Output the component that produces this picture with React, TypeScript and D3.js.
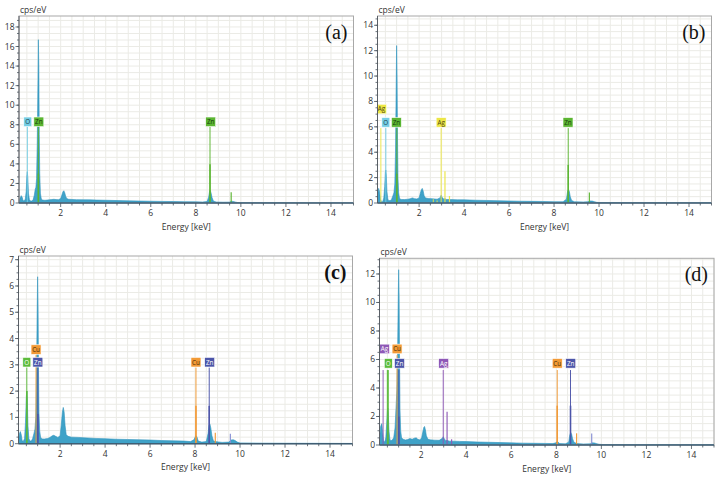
import React from 'react';
import * as d3 from 'd3';

type Pt = [number, number];
type Ln = { e: number; top: number; c: string; w: number; o?: number };
type Lab = { t: string; e: number; v: number; bg: string; fg: string };

// ---------- data ----------
const xTicks = [2, 4, 6, 8, 10, 12, 14];
const yTicksA = [0, 2, 4, 6, 8, 10, 12, 14, 16, 18];
const yTicksB = [0, 2, 4, 6, 8, 10, 12, 14];
const yTicksC = [0, 1, 2, 3, 4, 5, 6, 7];
const yTicksD = [0, 2, 4, 6, 8, 10, 12];

const specA: Pt[] = [[0.15,0.1],[0.2,0.5],[0.25,0.75],[0.29,0.6],[0.33,0.25],[0.38,0.2],[0.43,0.4],[0.47,1.2],[0.5,2.8],[0.52,3.2],[0.54,2.6],[0.57,1.0],[0.61,0.35],[0.66,0.2],[0.72,0.2],[0.78,0.35],[0.83,0.8],[0.87,1.4],[0.9,1.6],[0.93,2.5],[0.96,6],[0.99,12],[1.01,16.7],[1.03,14],[1.05,7],[1.07,3],[1.1,1.0],[1.14,0.4],[1.2,0.3],[1.3,0.28],[1.4,0.3],[1.5,0.33],[1.6,0.35],[1.7,0.38],[1.8,0.35],[1.9,0.34],[2.0,0.45],[2.05,0.8],[2.1,1.15],[2.14,1.25],[2.18,1.05],[2.22,0.7],[2.27,0.45],[2.35,0.38],[2.5,0.36],[2.7,0.34],[3.0,0.33],[3.3,0.32],[3.6,0.3],[4.0,0.28],[4.5,0.25],[5.0,0.22],[5.5,0.2],[6.0,0.18],[6.5,0.16],[7.0,0.15],[7.5,0.13],[8.0,0.12],[8.3,0.1],[8.5,0.15],[8.57,0.6],[8.61,1.2],[8.64,1.3],[8.68,1.0],[8.72,0.55],[8.78,0.2],[8.9,0.1],[9.2,0.08],[9.5,0.09],[9.58,0.18],[9.65,0.16],[9.75,0.1],[9.85,0.05],[10.0,0.03],[11,0.02],[12,0.02],[13,0.01],[15,0.01]];

const specB: Pt[] = [[0.15,0.6],[0.2,1.15],[0.24,0.9],[0.28,0.3],[0.33,0.1],[0.38,0.1],[0.43,0.4],[0.47,1.3],[0.5,2.4],[0.52,2.6],[0.54,2.2],[0.57,0.9],[0.61,0.3],[0.66,0.18],[0.72,0.2],[0.78,0.3],[0.84,0.6],[0.88,0.8],[0.92,1.5],[0.95,4],[0.98,9],[1.0,12.4],[1.02,10],[1.04,5],[1.06,2],[1.09,0.8],[1.13,0.35],[1.2,0.28],[1.35,0.27],[1.5,0.3],[1.6,0.33],[1.7,0.4],[1.8,0.34],[1.9,0.32],[2.0,0.4],[2.05,0.75],[2.1,1.05],[2.14,1.15],[2.18,0.95],[2.22,0.6],[2.28,0.4],[2.4,0.35],[2.6,0.33],[2.8,0.3],[2.93,0.4],[2.98,0.62],[3.02,0.45],[3.1,0.3],[3.15,0.35],[3.2,0.28],[3.4,0.27],[3.7,0.25],[4.0,0.25],[4.5,0.22],[5,0.2],[5.5,0.18],[6,0.16],[6.5,0.14],[7,0.13],[7.5,0.12],[8,0.1],[8.4,0.1],[8.55,0.3],[8.6,0.9],[8.64,1.08],[8.68,0.9],[8.72,0.5],[8.78,0.2],[8.9,0.1],[9.3,0.08],[9.5,0.1],[9.6,0.16],[9.7,0.15],[9.8,0.1],[9.9,0.05],[10.1,0.03],[12,0.02],[15,0.01]];

const specC: Pt[] = [[0.15,0.15],[0.2,0.4],[0.23,0.46],[0.27,0.35],[0.31,0.12],[0.36,0.08],[0.42,0.2],[0.46,0.8],[0.5,1.8],[0.52,2.0],[0.54,1.7],[0.57,0.7],[0.61,0.2],[0.66,0.1],[0.72,0.1],[0.78,0.2],[0.84,0.4],[0.88,0.55],[0.92,1.0],[0.95,2.5],[0.98,5],[1.0,6.35],[1.02,5.2],[1.04,2.8],[1.06,1.2],[1.09,0.5],[1.13,0.25],[1.2,0.18],[1.3,0.18],[1.45,0.2],[1.55,0.24],[1.65,0.3],[1.72,0.32],[1.8,0.28],[1.9,0.24],[2.0,0.3],[2.05,0.7],[2.1,1.2],[2.14,1.38],[2.18,1.2],[2.22,0.7],[2.27,0.35],[2.35,0.28],[2.5,0.25],[2.8,0.24],[3.2,0.22],[3.6,0.2],[4,0.19],[4.5,0.17],[5,0.16],[5.5,0.15],[6,0.14],[6.5,0.12],[7,0.11],[7.5,0.1],[7.8,0.08],[7.95,0.15],[8.03,0.3],[8.08,0.27],[8.14,0.1],[8.3,0.06],[8.5,0.08],[8.58,0.4],[8.62,0.7],[8.66,0.75],[8.7,0.6],[8.75,0.3],[8.82,0.1],[8.9,0.08],[9.2,0.05],[9.5,0.06],[9.6,0.14],[9.7,0.15],[9.78,0.12],[9.88,0.06],[10,0.03],[11,0.02],[15,0.01]];

const specD: Pt[] = [[0.15,0.4],[0.2,1.3],[0.25,1.5],[0.29,0.9],[0.33,0.3],[0.38,0.2],[0.43,0.5],[0.47,1.5],[0.5,2.4],[0.52,2.6],[0.54,2.2],[0.57,1.0],[0.61,0.4],[0.66,0.3],[0.72,0.35],[0.78,0.5],[0.84,1.2],[0.88,2.5],[0.92,3.8],[0.95,6],[0.98,10],[1.0,12.3],[1.02,10.5],[1.04,6],[1.06,2.5],[1.09,1.0],[1.13,0.5],[1.2,0.4],[1.3,0.35],[1.4,0.38],[1.5,0.45],[1.6,0.4],[1.7,0.48],[1.78,0.5],[1.85,0.4],[1.95,0.35],[2.02,0.5],[2.07,0.9],[2.12,1.25],[2.15,1.3],[2.19,1.05],[2.23,0.65],[2.3,0.4],[2.4,0.36],[2.6,0.34],[2.8,0.33],[2.93,0.45],[2.98,0.58],[3.03,0.42],[3.1,0.3],[3.15,0.33],[3.25,0.27],[3.4,0.27],[3.7,0.25],[4,0.24],[4.5,0.21],[5,0.19],[5.5,0.17],[6,0.15],[6.5,0.13],[7,0.12],[7.5,0.11],[7.85,0.1],[7.97,0.15],[8.03,0.22],[8.08,0.2],[8.15,0.1],[8.4,0.08],[8.55,0.2],[8.6,0.7],[8.64,0.88],[8.68,0.75],[8.72,0.45],[8.78,0.2],[8.9,0.1],[9.2,0.07],[9.5,0.08],[9.6,0.15],[9.7,0.14],[9.8,0.09],[9.9,0.05],[10.1,0.03],[12,0.02],[15,0.01]];

const cO1 = '#74cde4';
const cZn1 = '#5bb531';
const cAg1 = '#ece645';
const cO2 = '#5cbb3a';
const cCu = '#f29a36';
const cZn2 = '#4c55a9';
const cAg2 = '#8e58b6';

const linesA: Ln[] = [
  { e: 0.52, top: 7.8, c: cO1, w: 1 },
  { e: 1.01, top: 7.8, c: cZn1, w: 1 },
  { e: 1.01, top: 3.0, c: cZn1, w: 1.6 },
  { e: 8.63, top: 7.8, c: cZn1, w: 1 },
  { e: 8.63, top: 3.95, c: cZn1, w: 1.6 },
  { e: 9.57, top: 1.1, c: cZn1, w: 1.2 },
];
const labelsA: Lab[] = [
  { t: 'O', e: 0.54, v: 8.3, bg: cO1, fg: '#1d3b44' },
  { t: 'Zn', e: 1.03, v: 8.3, bg: cZn1, fg: '#173b0c' },
  { t: 'Zn', e: 8.66, v: 8.3, bg: cZn1, fg: '#173b0c' },
];

const linesB: Ln[] = [
  { e: 0.3, top: 5.9, c: cAg1, w: 1 },
  { e: 0.52, top: 5.9, c: cO1, w: 1 },
  { e: 1.01, top: 5.9, c: cZn1, w: 1 },
  { e: 1.01, top: 2.3, c: cZn1, w: 1.6 },
  { e: 2.63, top: 0.3, c: cAg1, w: 1 },
  { e: 2.8, top: 0.2, c: cAg1, w: 1 },
  { e: 2.98, top: 5.9, c: cAg1, w: 1 },
  { e: 3.15, top: 2.5, c: cAg1, w: 1.2 },
  { e: 3.35, top: 0.55, c: cAg1, w: 1.2 },
  { e: 8.63, top: 5.9, c: cZn1, w: 1 },
  { e: 8.63, top: 3.0, c: cZn1, w: 1.6 },
  { e: 9.57, top: 0.82, c: cZn1, w: 1.2 },
];
const labelsB: Lab[] = [
  { t: 'Ag', e: 0.33, v: 7.4, bg: cAg1, fg: '#4a4410' },
  { t: 'O', e: 0.52, v: 6.35, bg: cO1, fg: '#1d3b44' },
  { t: 'Zn', e: 0.99, v: 6.35, bg: cZn1, fg: '#173b0c' },
  { t: 'Ag', e: 2.98, v: 6.35, bg: cAg1, fg: '#4a4410' },
  { t: 'Zn', e: 8.62, v: 6.35, bg: cZn1, fg: '#173b0c' },
];

const linesC: Ln[] = [
  { e: 0.52, top: 2.9, c: cO2, w: 1 },
  { e: 0.52, top: 2.0, c: cO2, w: 1.6 },
  { e: 0.93, top: 3.37, c: cCu, w: 1 },
  { e: 1.01, top: 2.9, c: cZn2, w: 1 },
  { e: 1.01, top: 1.13, c: cZn2, w: 1.6 },
  { e: 8.04, top: 2.9, c: cCu, w: 1 },
  { e: 8.04, top: 1.44, c: cCu, w: 1.6 },
  { e: 8.63, top: 2.9, c: cZn2, w: 1 },
  { e: 8.63, top: 1.44, c: cZn2, w: 1.6 },
  { e: 8.9, top: 0.42, c: cCu, w: 1.2 },
  { e: 9.57, top: 0.38, c: '#8890d4', w: 1.2 },
];
const labelsC: Lab[] = [
  { t: 'Cu', e: 0.93, v: 3.58, bg: cCu, fg: '#4a2a05' },
  { t: 'O', e: 0.52, v: 3.1, bg: cO2, fg: '#ffffff' },
  { t: 'Zn', e: 1.01, v: 3.1, bg: cZn2, fg: '#ffffff' },
  { t: 'Cu', e: 8.04, v: 3.1, bg: cCu, fg: '#4a2a05' },
  { t: 'Zn', e: 8.65, v: 3.1, bg: cZn2, fg: '#ffffff' },
];

const linesD: Ln[] = [
  { e: 0.31, top: 5.26, c: cAg2, w: 1 },
  { e: 0.52, top: 5.26, c: cO2, w: 2 },
  { e: 0.93, top: 6.3, c: cCu, w: 1 },
  { e: 1.01, top: 5.26, c: cZn2, w: 1 },
  { e: 1.01, top: 2.0, c: cZn2, w: 1.6 },
  { e: 2.98, top: 5.26, c: cAg2, w: 1 },
  { e: 3.15, top: 2.34, c: cAg2, w: 1.2 },
  { e: 3.35, top: 0.4, c: cAg2, w: 1.2 },
  { e: 8.04, top: 5.26, c: cCu, w: 1 },
  { e: 8.04, top: 2.76, c: cCu, w: 1.6 },
  { e: 8.63, top: 5.26, c: cZn2, w: 1 },
  { e: 8.63, top: 2.76, c: cZn2, w: 1.6 },
  { e: 8.9, top: 0.82, c: cCu, w: 1.2 },
  { e: 9.57, top: 0.8, c: '#8890d4', w: 1.2 },
];
const labelsD: Lab[] = [
  { t: 'Ag', e: 0.37, v: 6.74, bg: cAg2, fg: '#ffffff' },
  { t: 'Cu', e: 0.93, v: 6.74, bg: cCu, fg: '#4a2a05' },
  { t: 'O', e: 0.54, v: 5.73, bg: cO2, fg: '#ffffff' },
  { t: 'Zn', e: 1.04, v: 5.73, bg: cZn2, fg: '#ffffff' },
  { t: 'Ag', e: 3.0, v: 5.73, bg: cAg2, fg: '#ffffff' },
  { t: 'Cu', e: 8.04, v: 5.73, bg: cCu, fg: '#4a2a05' },
  { t: 'Zn', e: 8.64, v: 5.73, bg: cZn2, fg: '#ffffff' },
];

// ---------- layout ----------
type PanelCfg = {
  id: string; tag: string; bold?: boolean;
  left: number; right: number; top: number; bottom: number;
  yMax: number; yTicks: number[]; minor: number;
  spec: Pt[]; lines: Ln[]; labels: Lab[];
};

const panels: PanelCfg[] = [
  { id: 'a', tag: '(a)', left: 19, right: 353.5, top: 16, bottom: 203, yMax: 19.12, yTicks: yTicksA, minor: 2 / 3, spec: specA, lines: linesA, labels: labelsA },
  { id: 'b', tag: '(b)', left: 377.5, right: 711.5, top: 16, bottom: 203, yMax: 14.73, yTicks: yTicksB, minor: 0.5, spec: specB, lines: linesB, labels: labelsB },
  { id: 'c', tag: '(c)', bold: true, left: 18.5, right: 352.5, top: 256, bottom: 443.7, yMax: 7.14, yTicks: yTicksC, minor: 0.25, spec: specC, lines: linesC, labels: labelsC },
  { id: 'd', tag: '(d)', left: 379.5, right: 714, top: 258.3, bottom: 445, yMax: 13.1, yTicks: yTicksD, minor: 0.5, spec: specD, lines: linesD, labels: labelsD },
];

const FONT = "'Open Sans', 'Noto Sans', sans-serif";

function Panel({ p }: { p: PanelCfg }) {
  const x = d3.scaleLinear().domain([0.15, 15]).range([p.left, p.right]);
  const y = d3.scaleLinear().domain([0, p.yMax]).range([p.bottom, p.top]);
  const area = d3.area<Pt>().x(d => x(d[0])).y0(y(0)).y1(d => y(d[1]));
  const vGrid = d3.range(0.5, 15.01, 0.5);
  const hGrid = d3.range(p.minor, p.yMax, p.minor);
  const clip = `clip-${p.id}`;
  const cx = (p.left + p.right) / 2;
  return (
    <g>
      <defs>
        <clipPath id={clip}>
          <rect x={p.left} y={p.top} width={p.right - p.left} height={p.bottom - p.top} />
        </clipPath>
      </defs>
      <rect x={p.left} y={p.top} width={p.right - p.left} height={p.bottom - p.top} fill="#fff" />
      {vGrid.map(v => (
        <line key={'v' + v} x1={x(v)} x2={x(v)} y1={p.top} y2={p.bottom} stroke="#ebebe6" strokeWidth={1} />
      ))}
      {hGrid.map(v => (
        <line key={'h' + v} x1={p.left} x2={p.right} y1={y(v)} y2={y(v)} stroke="#ebebe6" strokeWidth={1} />
      ))}
      <g clipPath={`url(#${clip})`}>
        <path d={area(p.spec) || ''} fill="#3fa2c8" stroke="#2f94bd" strokeWidth={0.6} />
        {p.lines.map((l, i) => (
          <line key={'l' + i} x1={x(l.e)} x2={x(l.e)} y1={y(0)} y2={y(l.top)} stroke={l.c} strokeWidth={l.w} opacity={l.o ?? 0.95} />
        ))}
        {p.labels.map((lb, i) => {
          const w = lb.t.length > 1 ? 10 : 8;
          const h = 9.6;
          return (
            <g key={'lb' + i}>
              <rect x={x(lb.e) - w / 2} y={y(lb.v) - h / 2} width={w} height={h} fill={lb.bg} stroke="#ffffff" strokeWidth={0.6} />
              <text x={x(lb.e)} y={y(lb.v) + 2.3} textAnchor="middle" fontSize={6.3} fontFamily={FONT} fill={lb.fg}>{lb.t}</text>
            </g>
          );
        })}
      </g>
      {/* border */}
      <rect x={p.left} y={p.top} width={p.right - p.left} height={p.bottom - p.top} fill="none" stroke="#a8a8a8" strokeWidth={1} />
      <line x1={p.left} x2={p.left} y1={p.top} y2={p.bottom} stroke="#5a5f66" strokeWidth={1} />
      <line x1={p.left} x2={p.right} y1={p.bottom} y2={p.bottom} stroke="#3f5e74" strokeWidth={1.5} />
      {/* x ticks */}
      {vGrid.map(v => (
        <line key={'xt' + v} x1={x(v)} x2={x(v)} y1={p.bottom} y2={p.bottom + (v % 2 === 0 ? 4 : 2.5)} stroke="#4a5560" strokeWidth={0.8} />
      ))}
      {xTicks.map(v => (
        <text key={'xl' + v} x={x(v)} y={p.bottom + 13} textAnchor="middle" fontSize={8.5} fontFamily={FONT} fill="#333">{v}</text>
      ))}
      {/* y ticks */}
      {hGrid.map(v => (
        <line key={'ym' + v} x1={p.left - 2} x2={p.left} y1={y(v)} y2={y(v)} stroke="#4a5560" strokeWidth={0.8} />
      ))}
      {p.yTicks.map(v => (
        <g key={'yt' + v}>
          <line x1={p.left - 3.5} x2={p.left} y1={y(v)} y2={y(v)} stroke="#4a5560" strokeWidth={0.8} />
          <text x={p.left - 4.5} y={y(v) + 3} textAnchor="end" fontSize={8.5} fontFamily={FONT} fill="#333">{v}</text>
        </g>
      ))}
      <text x={p.left + 1} y={p.top - 3.5} fontSize={8.5} fontFamily={FONT} fill="#333">cps/eV</text>
      <text x={cx} y={p.bottom + 26.5} textAnchor="middle" fontSize={8.5} fontFamily={FONT} fill="#333">Energy [keV]</text>
      <text x={p.right - 6} y={p.top + 23} textAnchor="end" fontSize={20} fontFamily="'Liberation Serif', 'Times New Roman', serif" fontWeight={p.bold ? 'bold' : 'normal'} fill="#111">{p.tag}</text>
    </g>
  );
}

export default function App() {
  return (
    <svg width={719} height={478} style={{ position: 'absolute', left: 0, top: 0, background: '#fff' }}>
      <rect x={0} y={0} width={719} height={478} fill="#fff" />
      {panels.map(p => <Panel key={p.id} p={p} />)}
    </svg>
  );
}
